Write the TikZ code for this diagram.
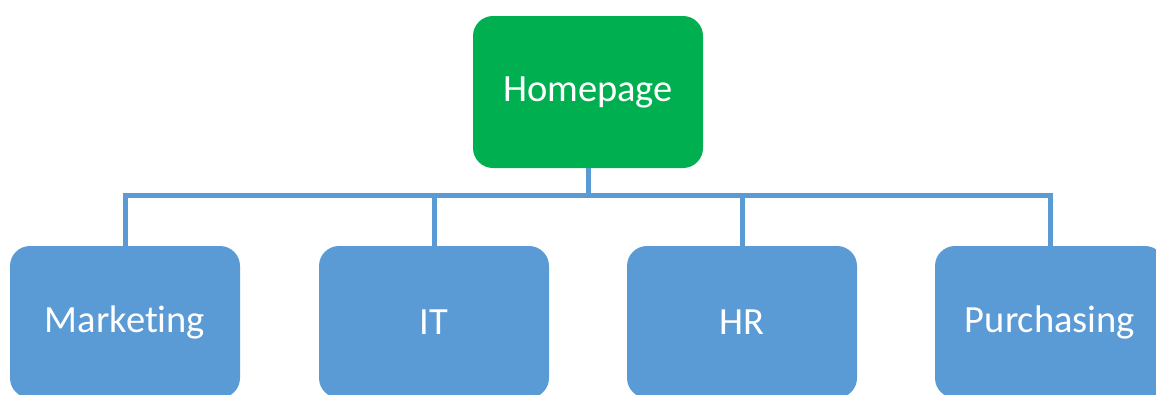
\documentclass[tikz,border=0pt]{standalone}
\usepackage{fontspec}
\setmainfont[Ligatures=NoCommon]{Carlito}
\definecolor{officegreen}{HTML}{00B050}
\definecolor{officeblue}{HTML}{5B9BD5}
\begin{document}
\begin{tikzpicture}[x=1pt,y=-1pt,
  box/.style={rounded corners=20pt, minimum width=230pt, minimum height=152pt,
    inner sep=0pt, text=white, font=\fontsize{38.5}{46}\selectfont},
  conn/.style={draw=officeblue, line width=5pt}]
\useasboundingbox (0,0) rectangle (1156,394);
\node[box, fill=officegreen] (home) at (588,92) {Homepage};
\node[box, fill=officeblue] (mk) at (125,322) {Marketing};
\node[box, fill=officeblue] (it) at (434,322) {IT};
\node[box, fill=officeblue] (hr) at (742,322) {HR};
\node[box, fill=officeblue] (pu) at (1050,322) {Purchasing};
\coordinate (j) at (588,195);
\draw[conn] (home.south) -- (j);
\draw[conn] (j) -| (mk.north);
\draw[conn] (j) -| (it.north);
\draw[conn] (j) -| (hr.north);
\draw[conn] (j) -| (pu.north);
\end{tikzpicture}
\end{document}
